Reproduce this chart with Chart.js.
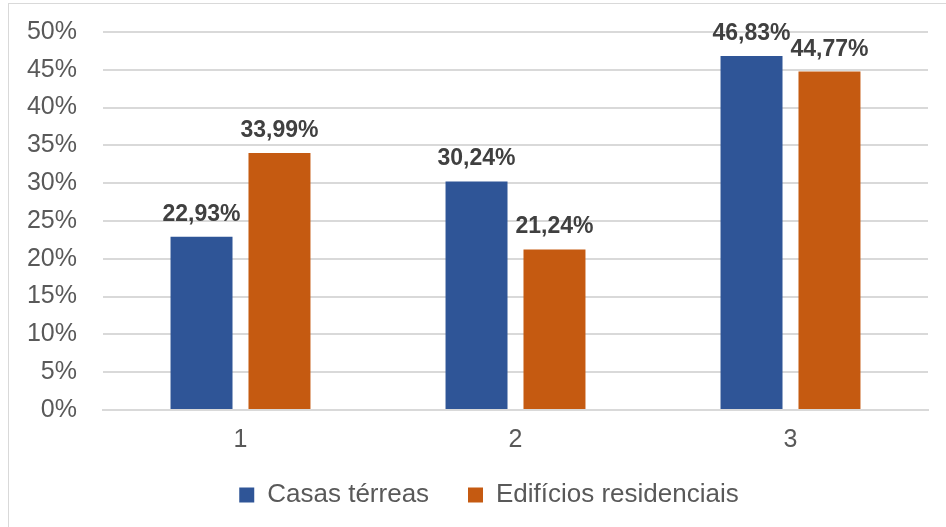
<!DOCTYPE html>
<html>
<head>
<meta charset="utf-8">
<script src="https://cdn.jsdelivr.net/npm/chart.js@4/dist/chart.umd.min.js"></script>
<style>
  html, body { margin: 0; padding: 0; background: #fff; }
  #wrap { position: relative; width: 946px; height: 527px; overflow: hidden; }
  #frame { position: absolute; left: 8px; top: 3px; width: 1000px; height: 600px; border: 1.5px solid #d9d9d9; box-sizing: border-box; }
  canvas { position: absolute; left: 0; top: 0; }
</style>
</head>
<body>
<div id="wrap">
  <div id="frame"></div>
  <canvas id="chart" width="946" height="527"></canvas>
</div>
<script>
// data
const categories = ["1", "2", "3"]
const casasTerreas = [22.93, 30.24, 46.83]
const edificiosResidenciais = [33.99, 21.24, 44.77]
const seriesNames = ["Casas térreas", "Edifícios residenciais"]
const yTicks = [0, 5, 10, 15, 20, 25, 30, 35, 40, 45, 50]

const FONT = "'Liberation Sans', Arial, sans-serif"

// value labels above the bars
const barLabels = {
  id: "barLabels",
  afterDatasetsDraw(chart) {
    const ctx = chart.ctx
    ctx.save()
    ctx.font = "bold 23px " + FONT
    ctx.fillStyle = "#404040"
    ctx.textAlign = "center"
    ctx.textBaseline = "alphabetic"
    chart.data.datasets.forEach((ds, i) => {
      chart.getDatasetMeta(i).data.forEach((bar, j) => {
        const txt = ds.data[j].toFixed(2).replace(".", ",") + "%"
        ctx.fillText(txt, bar.x, bar.y - 16)
      })
    })
    ctx.restore()
  },
}

// nudge the legend a bit to the right / down like the original
const legendShift = {
  id: "legendShift",
  afterLayout(chart) {
    const lg = chart.legend
    if (!lg) return
    lg.left += 25
    lg.right += 25
    lg.top += 2
    lg.bottom += 2
  },
}

new Chart(document.getElementById("chart"), {
  type: "bar",
  data: {
    labels: categories,
    datasets: [
      {
        label: seriesNames[0],
        data: casasTerreas,
        backgroundColor: "#2F5597",
        categoryPercentage: 0.567,
        barPercentage: 0.795,
      },
      {
        label: seriesNames[1],
        data: edificiosResidenciais,
        backgroundColor: "#C55A11",
        categoryPercentage: 0.567,
        barPercentage: 0.795,
      },
    ],
  },
  options: {
    responsive: false,
    animation: false,
    layout: {
      padding: { top: 32, right: 18, bottom: 11, left: 0 },
    },
    plugins: {
      legend: {
        position: "bottom",
        labels: {
          color: "#595959",
          font: { family: FONT, size: 26 },
          boxWidth: 15,
          boxHeight: 15,
          padding: 10,
          generateLabels(chart) {
            const items = Chart.defaults.plugins.legend.labels.generateLabels(chart)
            // wider gap between the two entries
            items[0].text = items[0].text + "    "
            return items
          },
        },
      },
      tooltip: { enabled: false },
    },
    scales: {
      x: {
        grid: { display: false, drawTicks: false },
        border: { display: true, color: "#d9d9d9", width: 2 },
        ticks: {
          color: "#595959",
          font: { family: FONT, size: 25 },
          padding: 15,
        },
        afterFit(scale) {
          scale.height = 60
          scale.paddingLeft = 0
          scale.paddingRight = 0
        },
      },
      y: {
        min: 0,
        max: 50,
        afterBuildTicks(scale) {
          scale.ticks = yTicks.map((v) => ({ value: v }))
        },
        grid: { color: "#d9d9d9", lineWidth: 2, drawTicks: false },
        border: { display: false },
        ticks: {
          color: "#595959",
          font: { family: FONT, size: 25 },
          padding: 26,
          callback: (v) => v + "%",
        },
        afterFit(scale) {
          scale.width = 103
          scale.paddingTop = 0
          scale.paddingBottom = 0
        },
      },
    },
  },
  plugins: [barLabels, legendShift],
})
</script>
</body>
</html>
